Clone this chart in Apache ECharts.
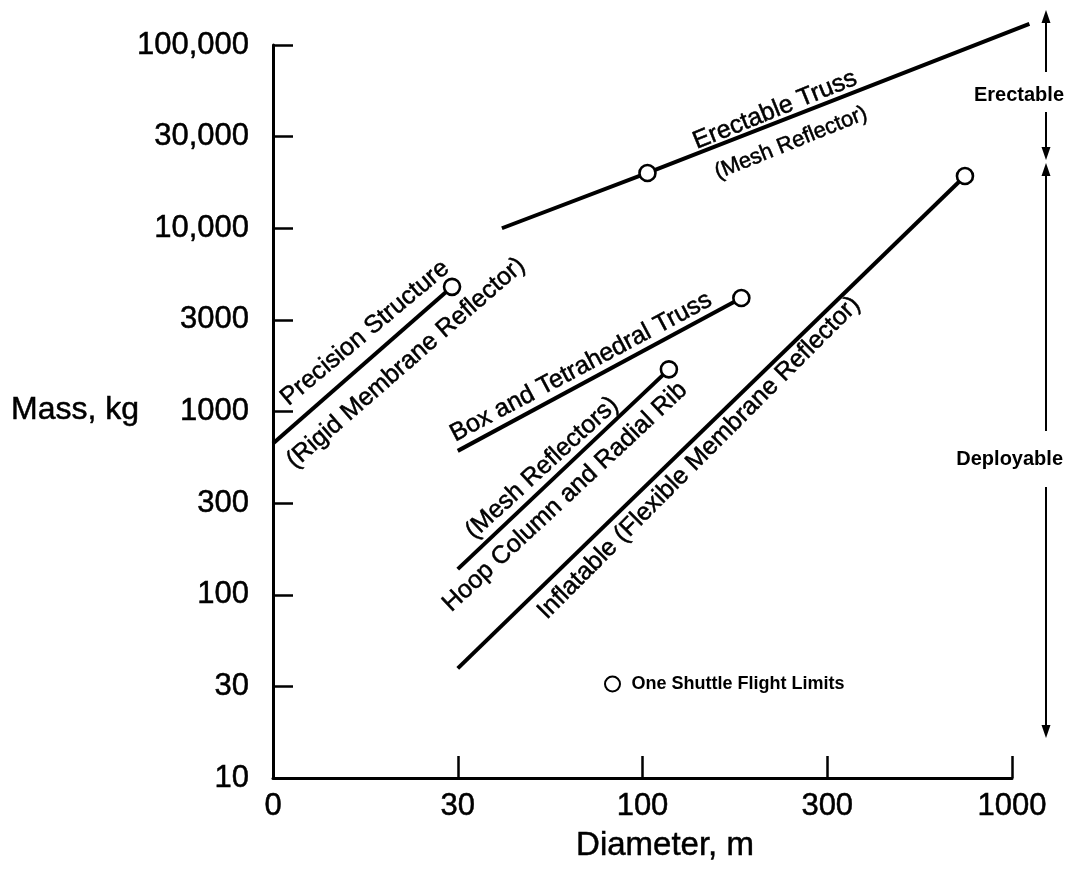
<!DOCTYPE html>
<html><head><meta charset="utf-8">
<script src="https://cdn.jsdelivr.net/npm/echarts@6/dist/echarts.min.js"></script>
<style>html,body{margin:0;padding:0;background:#fff}#c{width:1067px;height:883px}</style>
</head><body><div id="c"></div>
<script>
// Tick values and labels (half-decade scale drawn with equal spacing)
const xTickValues = [10, 30, 100, 300, 1000];
const xTickLabels = ['0', '30', '100', '300', '1000'];
const yTickValues = [10, 30, 100, 300, 1000, 3000, 10000, 30000, 100000];
const yTickLabels = ['10', '30', '100', '300', '1000', '3000', '10,000', '30,000', '100,000'];

// [diameter m, mass kg]
const erectableTruss = [[40, 10000], [103, 19400], [1120, 132000]];
const precisionStructure = [[10, 656], [29, 4630]];
const boxTetrahedral = [[30, 596], [180, 4000]];
const hoopColumn = [[30, 136], [117, 1658]];
const inflatable = [[30, 38], [736, 18700]];
const shuttleLimits = [precisionStructure[1], boxTetrahedral[1], hoopColumn[1], inflatable[1], erectableTruss[1]];

function pos(v, ticks) {
  let i = 0;
  while (i < ticks.length - 2 && v > ticks[i + 1]) i++;
  return i + Math.log(v / ticks[i]) / Math.log(ticks[i + 1] / ticks[i]);
}
const toAxis = d => [pos(d[0], xTickValues), pos(d[1], yTickValues)];

const FONT = '"Liberation Sans", Arial, Helvetica, sans-serif';
const chart = echarts.init(document.getElementById('c'), null, {renderer: 'canvas'});

// visible plot area: 0..4 over 739px, 0..8 over 733px
const GL = 273, GB = 778, UX = 739 / 4, UY = 733 / 8;
const XMAX2 = 4.25, YMAX2 = 8.4;

function lineSeries(name, data) {
  return {
    name: name, type: 'line', data: data.map(toAxis), symbol: 'none', clip: false,
    xAxisIndex: 1, yAxisIndex: 1,
    lineStyle: {color: '#000', width: 4}, z: 2, silent: true
  };
}

function label(text, x, y, deg, size, weight) {
  return {
    type: 'text', x: x, y: y, rotation: deg * Math.PI / 180, z: 10,
    style: {text: text, fill: '#000', font: (weight || 'normal') + ' ' + size + 'px ' + FONT,
      align: 'center', verticalAlign: 'middle', stroke: '#000', lineWidth: 0.5}
  };
}
function seg(x1, y1, x2, y2) {
  return {type: 'line', shape: {x1: x1, y1: y1, x2: x2, y2: y2}, style: {stroke: '#000', lineWidth: 2}, z: 10};
}
function head(x, tipY, dir) {
  const b = tipY - dir * 13;
  return {type: 'polygon', shape: {points: [[x, tipY], [x - 4.5, b], [x + 4.5, b]]}, style: {fill: '#000'}, z: 10};
}
const AX = 1046;
const tickText = {fontSize: 31, color: '#000', fontFamily: FONT, textBorderColor: '#000', textBorderWidth: 0.5};

chart.setOption({
  animation: false,
  backgroundColor: '#fff',
  grid: [
    {left: GL, top: GB - 8 * UY, width: 4 * UX, height: 8 * UY, containLabel: false},
    {left: GL, top: GB - YMAX2 * UY, width: XMAX2 * UX, height: YMAX2 * UY, containLabel: false}
  ],
  xAxis: [{
    gridIndex: 0, type: 'value', min: 0, max: 4, interval: 1,
    axisLine: {show: true, lineStyle: {color: '#000', width: 3}},
    axisTick: {show: true, inside: true, length: 22, lineStyle: {color: '#000', width: 2.5}},
    axisLabel: Object.assign({margin: 13, formatter: v => xTickLabels[Math.round(v)] || ''}, tickText),
    splitLine: {show: false}
  }, {
    gridIndex: 1, type: 'value', min: 0, max: XMAX2, show: false
  }],
  yAxis: [{
    gridIndex: 0, type: 'value', min: 0, max: 8, interval: 1,
    axisLine: {show: true, lineStyle: {color: '#000', width: 3}},
    axisTick: {show: true, inside: true, length: 20, lineStyle: {color: '#000', width: 2.5}},
    axisLabel: Object.assign({margin: 24, formatter: v => yTickLabels[Math.round(v)] || ''}, tickText),
    splitLine: {show: false}
  }, {
    gridIndex: 1, type: 'value', min: 0, max: YMAX2, show: false
  }],
  legend: {
    data: ['One Shuttle Flight Limits'], left: 604, top: 675, icon: 'circle',
    itemWidth: 28, itemHeight: 15, padding: 0, selectedMode: false,
    textStyle: {fontSize: 18, fontWeight: 'bold', color: '#000', fontFamily: FONT}
  },
  series: [
    lineSeries('Erectable Truss', erectableTruss),
    lineSeries('Precision Structure', precisionStructure),
    lineSeries('Box and Tetrahedral Truss', boxTetrahedral),
    lineSeries('Hoop Column and Radial Rib', hoopColumn),
    lineSeries('Inflatable', inflatable),
    {
      name: 'One Shuttle Flight Limits', type: 'scatter', data: shuttleLimits.map(toAxis),
      xAxisIndex: 0, yAxisIndex: 0,
      symbol: 'circle', symbolSize: 16, clip: false, z: 5,
      itemStyle: {color: '#fff', borderColor: '#000', borderWidth: 2.6, opacity: 1}
    }
  ],
  graphic: [
    label('Mass, kg', 75, 410, 0, 32),
    label('Diameter, m', 665, 846, 0, 33),
    label('Precision Structure', 365, 333, 40, 25),
    label('(Rigid Membrane Reflector)', 406, 363, 41, 25),
    label('Box and Tetrahedral Truss', 581, 367, 28, 25),
    label('(Mesh Reflectors)', 542, 468, 42.5, 25),
    label('Hoop Column and Radial Rib', 565, 497, 43, 25),
    label('Inflatable (Flexible Membrane Reflector)', 699, 458, 45, 25),
    label('Erectable Truss', 775, 110, 22, 25),
    label('(Mesh Reflector)', 791, 143, 22, 22),
    {type: 'text', x: 1064, y: 95, z: 10, style: {text: 'Erectable', fill: '#000', font: 'bold 20px ' + FONT, align: 'right', verticalAlign: 'middle'}},
    {type: 'text', x: 1063, y: 459, z: 10, style: {text: 'Deployable', fill: '#000', font: 'bold 20px ' + FONT, align: 'right', verticalAlign: 'middle'}},
    head(AX, 10, -1), seg(AX, 20, AX, 72),
    seg(AX, 112, AX, 150), head(AX, 160, 1),
    head(AX, 163, -1), seg(AX, 172, AX, 431),
    seg(AX, 487, AX, 728), head(AX, 738, 1)
  ]
});
</script></body></html>
